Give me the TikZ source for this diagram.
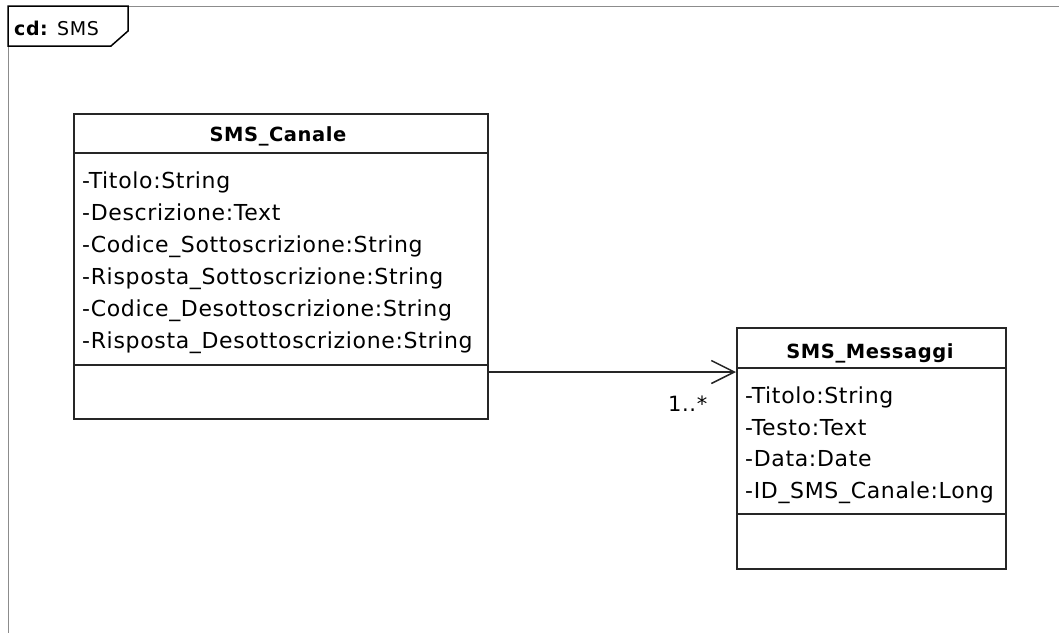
\documentclass[tikz,border=0pt]{standalone}
\usepackage{fontspec}
\setmainfont{DejaVu Sans}[LetterSpace=3]
\usetikzlibrary{arrows.meta}
\tikzset{
  frameline/.style={draw=black!45, line width=1pt},
  tagbox/.style={draw=black, line width=1.5pt},
  classbox/.style={draw=black!85, line width=1.5pt, fill=white, inner sep=0pt},
  sepline/.style={draw=black!85, line width=1.5pt},
  attr/.style={anchor=base west, inner sep=0pt, font=\fontsize{22}{26}\selectfont},
  cname/.style={anchor=base, inner sep=0pt, font=\fontsize{19.5}{24}\selectfont\bfseries},
  assoc/.style={draw=black!85, line width=1.5pt, -{Straight Barb[length=23pt,width=23pt,line width=1.5pt]}},
  mult/.style={anchor=base west, inner sep=0pt, font=\fontsize{21}{24}\selectfont}
}
\begin{document}
\begin{tikzpicture}[x=1pt, y=-1pt]
\useasboundingbox (0,0) rectangle (1059,633);

% diagram frame with its name tag
\draw[frameline] (128,6) -- (1059,6);
\draw[frameline] (8,46) -- (8,633);
\draw[tagbox] (8,6) -- (128,6) -- (128,31) -- (111,46) -- (8,46) -- cycle;
\node[anchor=base west, inner sep=0pt, font=\fontsize{19}{22}\selectfont] (tag) at (14,35) {\textbf{cd:} SMS};

% class SMS_Canale
\node[classbox, minimum width=414pt, minimum height=305pt, anchor=north west] (canale) at (73,113) {};
\draw[sepline] (73,153) -- (487,153);
\draw[sepline] (73,365) -- (487,365);
\node[cname] (canaleName) at (278,141) {SMS\_Canale};
\node[attr] (c1) at (82,188) {-Titolo:String};
\node[attr] (c2) at (82,220) {-Descrizione:Text};
\node[attr] (c3) at (82,252) {-Codice\_Sottoscrizione:String};
\node[attr] (c4) at (82,284) {-Risposta\_Sottoscrizione:String};
\node[attr] (c5) at (82,316) {-Codice\_Desottoscrizione:String};
\node[attr] (c6) at (82,348) {-Risposta\_Desottoscrizione:String};

% class SMS_Messaggi
\node[classbox, minimum width=269pt, minimum height=241pt, anchor=north west] (messaggi) at (736,327) {};
\draw[sepline] (736,368) -- (1005,368);
\draw[sepline] (736,514) -- (1005,514);
\node[cname] (messaggiName) at (870,358) {SMS\_Messaggi};
\node[attr] (m1) at (745,403) {-Titolo:String};
\node[attr] (m2) at (745,435) {-Testo:Text};
\node[attr] (m3) at (745,466) {-Data:Date};
\node[attr] (m4) at (745,498) {-ID\_SMS\_Canale:Long};

% navigable association
\coordinate (lnk) at (0,372);
\draw[assoc] (canale.east |- lnk) -- (messaggi.west |- lnk);
\node[mult] (mul) at (668,411) {1..*};
\end{tikzpicture}
\end{document}
